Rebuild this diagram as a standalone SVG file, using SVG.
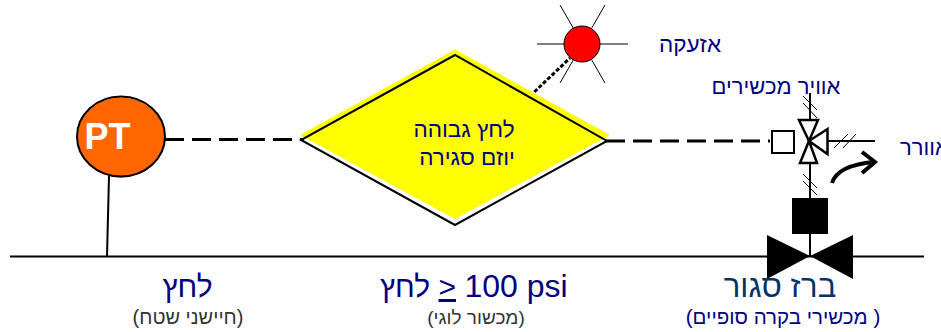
<svg xmlns="http://www.w3.org/2000/svg" width="941" height="332" viewBox="0 0 941 332">
<style>
text{font-family:"Liberation Sans",Arial,sans-serif;fill:#000080}
.he{direction:rtl;text-anchor:middle}
.k{fill:#000;stroke:none}
.l{fill:none;stroke:#000;stroke-width:2}
.t{fill:none;stroke:#000;stroke-width:1}
.d{fill:none;stroke:#000;stroke-width:3;stroke-dasharray:19 8}
</style>
<rect width="941" height="332" fill="#fff"/>
<g id="connectors">
<line class="l" x1="10" y1="256.5" x2="924" y2="256.5"/>
<line class="l" x1="109" y1="176" x2="107" y2="256"/>
<line class="d" x1="165" y1="139.5" x2="304" y2="139.5"/>
<line class="d" x1="606" y1="141" x2="770" y2="141"/>
<line x1="530" y1="96" x2="570" y2="58" fill="none" stroke="#000" stroke-width="3" stroke-dasharray="4 2"/>
<line class="l" x1="810" y1="93" x2="810" y2="120"/>
<line class="l" x1="828" y1="141" x2="875" y2="141"/>
<line class="l" x1="810" y1="163" x2="810" y2="198"/>
<line class="l" x1="810" y1="234" x2="810" y2="256"/>
<path class="t" d="M803 96L817 110M803 103L817 118M834 148L848 134M843 148L856 134M803 174L817 188M803 181L817 195"/>
</g>
<g id="pt">
<ellipse cx="121" cy="137.500" rx="44" ry="40" fill="#ff6600"/>
<ellipse cx="121" cy="136.500" rx="44" ry="40" fill="none" stroke="#000" stroke-width="2"/>
<text x="107.500" y="149" text-anchor="middle" font-size="36" font-weight="700" style="fill:#fff">PT</text>
</g>
<g id="logic">
<polygon points="455,49.500 300,135 455,219 610,135" fill="#ff0"/>
<polygon points="455,55 301,140 455,225 607,141" fill="none" stroke="#000" stroke-width="2"/>
<text class="he" x="464" y="137" font-size="22.500">לחץ גבוהה</text>
<text class="he" x="467" y="165" font-size="22.500">יוזם סגירה</text>
</g>
<g id="alarm">
<path class="t" d="M537 44H628M560 5L605 83M605 5L560 83"/>
<circle cx="582" cy="44" r="18" fill="#f00" stroke="#000" stroke-width="1"/>
<text class="he" x="690" y="52" font-size="22.500">אזעקה</text>
</g>
<g id="air">
<text class="he" x="776" y="94" font-size="22">אוויר מכשירים</text>
<text x="900" y="155" font-size="22" style="direction:rtl;text-anchor:end">אוורר</text>
</g>
<g id="positioner">
<rect x="772" y="131" width="22" height="22" fill="#fff" stroke="#000" stroke-width="2"/>
<path d="M799 120H818L809 141ZM800 163H817L809 141ZM827.500 129V154L809 141Z" fill="#fff" stroke="#000" stroke-width="2.500"/>
</g>
<g id="valve">
<rect class="k" x="792" y="198" width="36" height="36"/>
<path class="k" d="M767 235L810 256L853 235V279L810 256L767 279Z"/>
<path d="M832 183C836 170 852 164 874 162" fill="none" stroke="#000" stroke-width="4"/>
<path d="M862 152L875 162L862 173" fill="none" stroke="#000" stroke-width="4"/>
</g>
<g id="labels">
<text class="he" x="187.500" y="297" font-size="30">לחץ</text>
<text class="he" x="188" y="324" font-size="20" style="fill:#333">(חיישני שטח)</text>
<text x="380" y="297" font-size="30">לחץ &#x200E;<tspan text-decoration="underline">&gt;</tspan>&#x200E; <tspan font-size="32">100 psi</tspan></text>
<text class="he" x="476" y="324" font-size="19" style="fill:#333">(מכשור לוגי)</text>
<text class="he" x="780" y="297" font-size="31" style="fill:#003366">ברז סגור</text>
<text class="he" x="783" y="324" font-size="20.500">(  מכשירי בקרה סופיים)</text>
</g>
</svg>
